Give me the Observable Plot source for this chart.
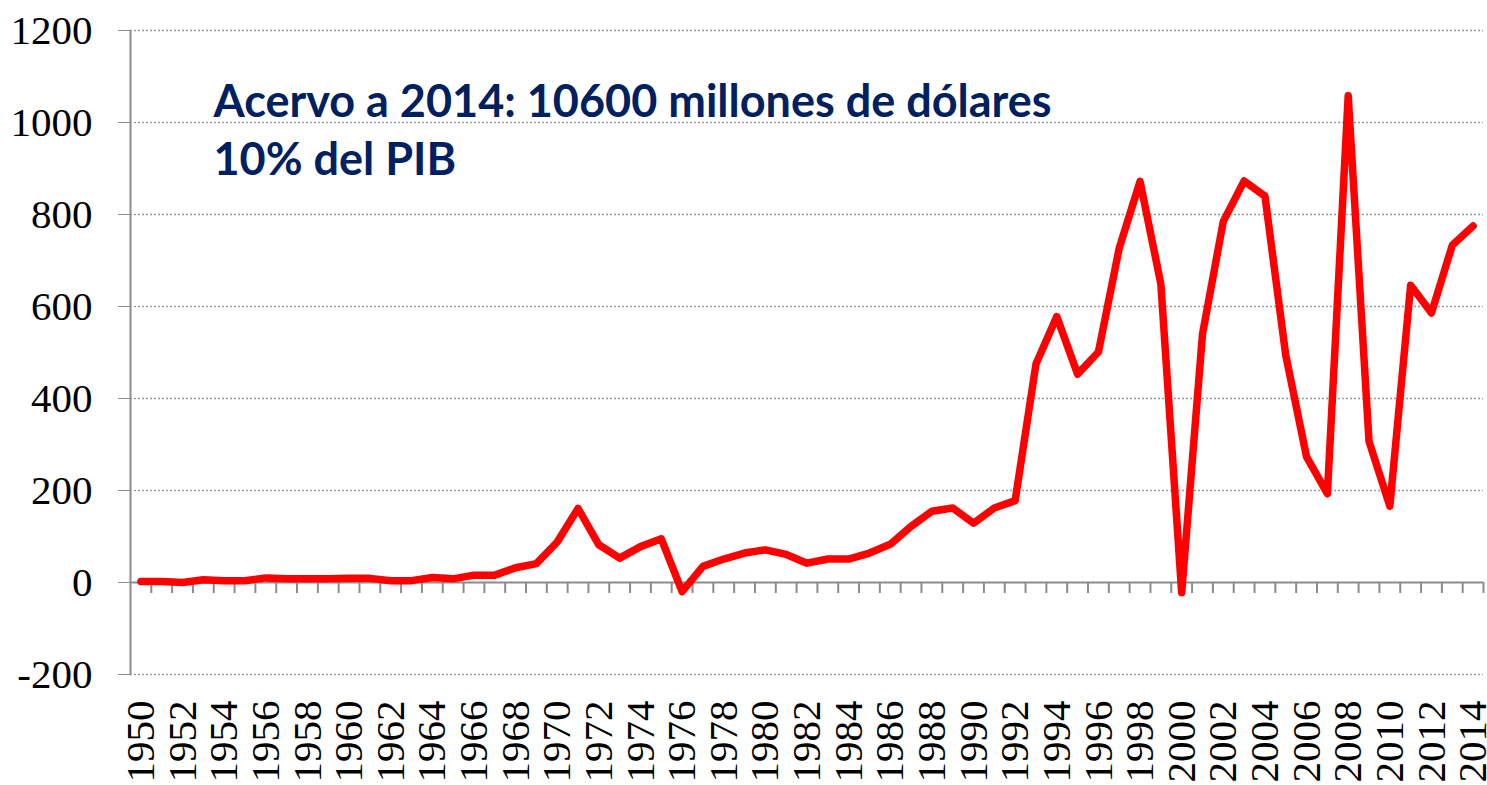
<!DOCTYPE html>
<html>
<head>
<meta charset="utf-8">
<script src="https://cdn.jsdelivr.net/npm/d3@7"></script>
<script src="https://cdn.jsdelivr.net/npm/@observablehq/plot@0.6"></script>
<style>
  html, body { margin: 0; padding: 0; background: #fff; overflow: hidden; }
</style>
</head>
<body>
<div id="chart"></div>
<script>
const years = d3.range(1950, 2015);
const values = [
  2, 2, 0, 6, 4, 4, 10, 8, 8, 8,
  9, 9, 4, 4, 11, 8, 16, 16, 32, 41,
  88, 161, 82, 53, 78, 95, -20, 35, 51, 64,
  71, 61, 42, 51, 51, 64, 83, 122, 155, 162,
  129, 162, 178, 475, 578, 453, 501, 727, 872, 649,
  -22, 540, 785, 873, 840, 494, 273, 193, 1058, 307,
  166, 646, 586, 733, 775
];
const yTicks = [-200, 0, 200, 400, 600, 800, 1000, 1200];
const gridValues = [-200, 200, 400, 600, 800, 1000, 1200];
const xLabelYears = years.filter(y => y % 2 === 0);
const boundaries = years.map(y => y + 0.5);
const annotation = "Acervo a 2014: 10600 millones de dólares\n10% del PIB";

const data = years.map((year, i) => ({year, value: values[i]}));

const axisGrey = "#8c8c8c";
const serif = "'Liberation Serif', 'Times New Roman', serif";

const chart = Plot.plot({
  width: 1487,
  height: 785,
  marginLeft: 130,
  marginRight: 4,
  marginTop: 30,
  marginBottom: 111,
  style: {background: "#fff", fontFamily: serif, fontSize: "40px", color: "#000"},
  x: {type: "linear", domain: [1949.5, 2014.5]},
  y: {domain: [-200, 1200]},
  marks: [
    Plot.ruleY(gridValues, {stroke: "#9a9a9a", strokeWidth: 1.5, strokeDasharray: "2,2"}),
    Plot.ruleX([1949.5], {stroke: axisGrey, strokeWidth: 2}),
    Plot.ruleY([0], {stroke: axisGrey, strokeWidth: 2}),
    Plot.ruleX(boundaries, {x: d => d, y1: 0, y2: 0, insetBottom: -11, stroke: axisGrey, strokeWidth: 2}),
    Plot.axisY({
      ticks: yTicks, tickSize: 12, tickPadding: 26, tickFormat: d => String(d),
      stroke: axisGrey, fill: "#000", fontSize: 41, fontFamily: serif, label: null
    }),
    Plot.axisX({
      ticks: xLabelYears, tickSize: 0, tickPadding: 26, tickRotate: -90,
      tickFormat: d => String(d), fill: "#000", fontSize: 41, fontFamily: serif, label: null
    }),
    Plot.line(data, {
      x: "year", y: "value", stroke: "#ff0000", strokeWidth: 7.5,
      strokeLinejoin: "round", strokeLinecap: "round"
    }),
    Plot.text([annotation], {
      frameAnchor: "top-left", dx: 83, dy: 45, lineAnchor: "top", textAnchor: "start",
      lineHeight: 1.29, fontSize: 45, fontWeight: "bold",
      fontFamily: "Lato, sans-serif", fill: "#002060"
    })
  ]
});
document.getElementById("chart").appendChild(chart);
</script>
</body>
</html>
